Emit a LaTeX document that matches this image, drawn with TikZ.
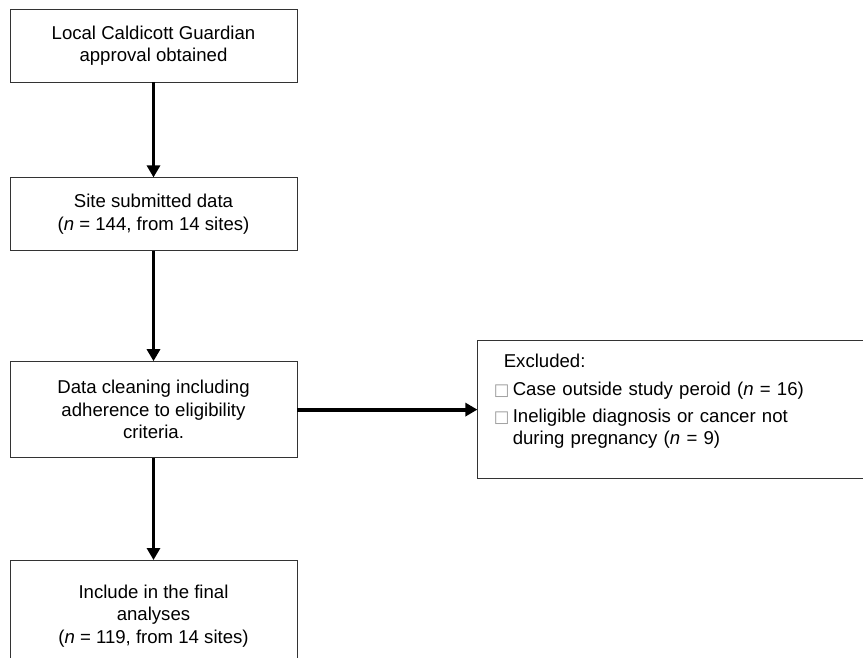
\documentclass[tikz,border=0pt]{standalone}
\usepackage{fontspec}
\setmainfont{Liberation Sans}
\newfontfamily\symfont{DejaVu Sans}
\usetikzlibrary{arrows.meta,positioning}
\newcommand\exbullet{\makebox[19pt][l]{\textcolor{black!40}{\symfont\fontsize{16.5}{16.5}\selectfont □}}}

\begin{document}
\begin{tikzpicture}[x=1pt,y=-1pt,
    font=\fontsize{18.6}{22.5}\selectfont,
    box/.style = {draw=black!80, line width=0.8pt, minimum width=287pt,
        align=center, inner sep=0pt},
    arr/.style = {line width=3.8pt, -{Triangle[length=12pt,width=13pt]}}]
\useasboundingbox (0,0) rectangle (863,657);
\clip (0,0) rectangle (863,657);
\node[box, minimum height=73pt] (approval) at (153.5,45.5)
    {Local Caldicott Guardian\\approval obtained};
\node[box, minimum height=73pt, below=95pt of approval] (submitted)
    {Site submitted data\\(\textit{n} = 144, from 14 sites)};
\node[box, minimum height=96pt, below=110pt of submitted] (cleaning)
    {Data cleaning including\\adherence to eligibility\\criteria.};
\node[box, minimum height=111pt, below=102pt of cleaning] (final)
    {Include in the final\\analyses\\(\textit{n} = 119, from 14 sites)};
\node[draw=black!80, line width=0.8pt, inner xsep=16pt, inner ysep=0pt,
    text width=391pt, align=left, right=180pt of cleaning] (excluded)
    {\rule{0pt}{27pt}\hspace*{10pt}Excluded:\\[5.5pt]
     \exbullet Case outside study peroid (\textit{n} = 16)\\[4.5pt]
     \exbullet Ineligible diagnosis or cancer not\\
     \hspace*{19pt}during pregnancy (\textit{n} = 9)\rule[-34pt]{0pt}{34pt}};
\draw[arr] (approval) -- (submitted);
\draw[arr] (submitted) -- (cleaning);
\draw[arr] (cleaning) -- (final);
\draw[arr] (cleaning) -- (excluded);
\end{tikzpicture}
\end{document}
